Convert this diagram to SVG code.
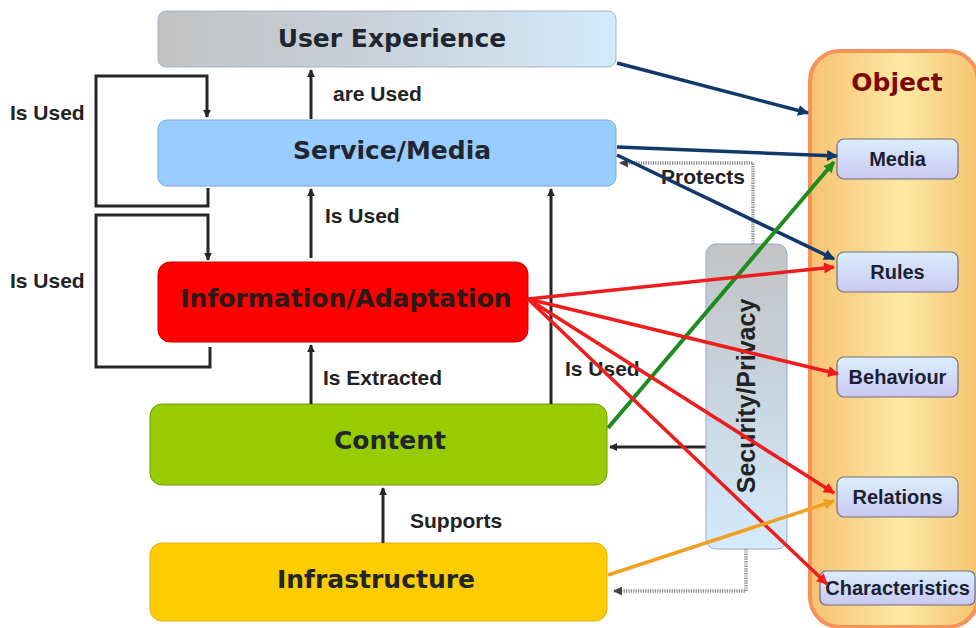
<svg xmlns="http://www.w3.org/2000/svg" width="976" height="628" viewBox="0 0 976 628">
<defs>
<style>
.title{font-family:"DejaVu Sans",Verdana,sans-serif;font-weight:bold;font-size:25px;fill:#1f2630;text-anchor:middle;dominant-baseline:central}
.lbl{font-family:"Liberation Sans",Arial,sans-serif;font-weight:bold;font-size:21px;fill:#222}
.sub{font-family:"Liberation Sans",Arial,sans-serif;font-weight:bold;font-size:20px;fill:#1a1f33;text-anchor:middle;dominant-baseline:central}
.subbox{fill:url(#gSub);stroke:#6e6e80;stroke-width:1.2}
.dk{fill:none;stroke:#262626;stroke-width:3}
.dot{fill:none;stroke:#8a8a8a;stroke-width:3.5;stroke-dasharray:1.2 1.2}
.navy{stroke:#10386a;stroke-width:3.5;fill:none}
.green{stroke:#1c8c1c;stroke-width:4;fill:none}
.red{stroke:#ee1c1c;stroke-width:3.5;fill:none}
.orange{stroke:#f0a020;stroke-width:3.5;fill:none}
</style>
<linearGradient id="gUX" x1="0" y1="0" x2="1" y2="0">
<stop offset="0" stop-color="#c2c2c2"/><stop offset="0.4" stop-color="#c8ced6"/><stop offset="1" stop-color="#d2ebfc"/>
</linearGradient>
<linearGradient id="gSec" x1="0" y1="0" x2="0" y2="1">
<stop offset="0" stop-color="#c3c3c3"/><stop offset="0.45" stop-color="#c7d3de"/><stop offset="1" stop-color="#d3ebfc"/>
</linearGradient>
<linearGradient id="gObj" x1="0" y1="0" x2="1" y2="0">
<stop offset="0" stop-color="#f7c271"/><stop offset="0.55" stop-color="#fde9a4"/><stop offset="1" stop-color="#f7c271"/>
</linearGradient>
<linearGradient id="gSub" x1="0" y1="0" x2="0" y2="1">
<stop offset="0" stop-color="#dbeefc"/><stop offset="1" stop-color="#c9c8f2"/>
</linearGradient>
<marker id="aDk" viewBox="0 0 10 10" refX="9" refY="5" markerWidth="8" markerHeight="8" markerUnits="userSpaceOnUse" orient="auto"><path d="M0,0 L10,5 L0,10 z" fill="#262626"/></marker>
<marker id="aDot" viewBox="0 0 10 10" refX="9" refY="5" markerWidth="9" markerHeight="9" markerUnits="userSpaceOnUse" orient="auto"><path d="M0,0 L10,5 L0,10 z" fill="#444"/></marker>
<marker id="aNavy" viewBox="0 0 10 10" refX="9" refY="5" markerWidth="13" markerHeight="11" markerUnits="userSpaceOnUse" orient="auto"><path d="M0,0 L10,5 L0,10 z" fill="#10386a"/></marker>
<marker id="aGreen" viewBox="0 0 10 10" refX="9" refY="5" markerWidth="13" markerHeight="11" markerUnits="userSpaceOnUse" orient="auto"><path d="M0,0 L10,5 L0,10 z" fill="#1c8c1c"/></marker>
<marker id="aRed" viewBox="0 0 10 10" refX="9" refY="5" markerWidth="13" markerHeight="11" markerUnits="userSpaceOnUse" orient="auto"><path d="M0,0 L10,5 L0,10 z" fill="#ee1c1c"/></marker>
<marker id="aOrange" viewBox="0 0 10 10" refX="9" refY="5" markerWidth="13" markerHeight="11" markerUnits="userSpaceOnUse" orient="auto"><path d="M0,0 L10,5 L0,10 z" fill="#f0a020"/></marker>
</defs>
<rect width="976" height="628" fill="#ffffff"/>

<g id="object">
<rect x="810" y="51" width="168" height="576" rx="30" fill="url(#gObj)" stroke="#f5935a" stroke-width="4"/>
<text x="897" y="82" class="title" style="fill:#7a0a0a">Object</text>
</g>
<g id="obj-media"><rect class="subbox" x="837" y="139" width="121" height="40" rx="7"/><text class="sub" x="897.5" y="159">Media</text></g>
<g id="obj-rules"><rect class="subbox" x="837" y="252" width="121" height="40" rx="7"/><text class="sub" x="897.5" y="272">Rules</text></g>
<g id="obj-behaviour"><rect class="subbox" x="837" y="357" width="121" height="40" rx="7"/><text class="sub" x="897.5" y="377">Behaviour</text></g>
<g id="obj-relations"><rect class="subbox" x="837" y="477" width="121" height="40" rx="7"/><text class="sub" x="897.5" y="497">Relations</text></g>
<g id="obj-characteristics"><rect class="subbox" x="820" y="571" width="155" height="34" rx="6"/><text class="sub" x="897.5" y="588">Characteristics</text></g>

<g id="user-experience"><rect x="158" y="11" width="458" height="56" rx="8" fill="url(#gUX)" stroke="#a8b4c4" stroke-width="1"/><text class="title" x="392" y="38">User Experience</text></g>
<g id="service-media"><rect x="158" y="120" width="458" height="66" rx="9" fill="#99ccff" stroke="#7aa6d6" stroke-width="1"/><text class="title" x="392" y="150">Service/Media</text></g>
<g id="information-adaptation"><rect x="158" y="262" width="370" height="80" rx="12" fill="#ff0000" stroke="#d00000" stroke-width="1"/><text class="title" x="346" y="298" style="fill:#2a1a1a">Information/Adaptation</text></g>
<g id="content"><rect x="150" y="404" width="457" height="81" rx="12" fill="#99cc00" stroke="#6f9a00" stroke-width="1"/><text class="title" x="390" y="440">Content</text></g>
<g id="infrastructure"><rect x="150" y="543" width="457" height="78" rx="12" fill="#ffcc00" stroke="#e4ae00" stroke-width="1"/><text class="title" x="376" y="579">Infrastructure</text></g>

<g id="connectors">
<path class="dot" d="M753,244 V163 H620" marker-end="url(#aDot)"/>
<path class="dot" d="M746,549 V591 H614" marker-end="url(#aDot)"/>

<path class="dk" d="M311,119 V70" marker-end="url(#aDk)"/>
<path class="dk" d="M311,258 V189" marker-end="url(#aDk)"/>
<path class="dk" d="M311,404 V345" marker-end="url(#aDk)"/>
<path class="dk" d="M551,404 V189" marker-end="url(#aDk)"/>
<path class="dk" d="M383,543 V488" marker-end="url(#aDk)"/>
<path class="dk" d="M208,188 V206 H96 V76 H207 V117" marker-end="url(#aDk)"/>
<path class="dk" d="M210,347 V367 H96 V215 H208 V260" marker-end="url(#aDk)"/>
<path class="dk" d="M706,447 H610" marker-end="url(#aDk)"/>
</g>

<g id="security-privacy"><rect x="706" y="244" width="81" height="305" rx="10" fill="url(#gSec)" stroke="#9aa8cc" stroke-width="1"/><text class="lbl" transform="translate(746,396) rotate(-90)" text-anchor="middle" dominant-baseline="central" style="font-size:25px">Security/Privacy</text></g>

<g id="labels">
<text class="lbl" x="333" y="101">are Used</text>
<text class="lbl" x="325" y="223">Is Used</text>
<text class="lbl" x="323" y="385">Is Extracted</text>
<text class="lbl" x="565" y="376">Is Used</text>
<text class="lbl" x="410" y="528">Supports</text>
<text class="lbl" x="10" y="120">Is Used</text>
<text class="lbl" x="10" y="288">Is Used</text>
<text class="lbl" x="661" y="184">Protects</text>
</g>

<g id="colored-connectors">
<path class="navy" d="M617,63 L808,113" marker-end="url(#aNavy)"/>
<path class="navy" d="M617,147 L837,156" marker-end="url(#aNavy)"/>
<path class="navy" d="M617,155 L834,259" marker-end="url(#aNavy)"/>
<path class="green" d="M608,428 L834,162" marker-end="url(#aGreen)"/>
<path class="red" d="M528,299 L834,267" marker-end="url(#aRed)"/>
<path class="red" d="M528,299 L838,374" marker-end="url(#aRed)"/>
<path class="red" d="M528,299 L834,493" marker-end="url(#aRed)"/>
<path class="red" d="M528,299 L827,584" marker-end="url(#aRed)"/>
<path class="orange" d="M608,575 L834,501" marker-end="url(#aOrange)"/>
</g>
</svg>
